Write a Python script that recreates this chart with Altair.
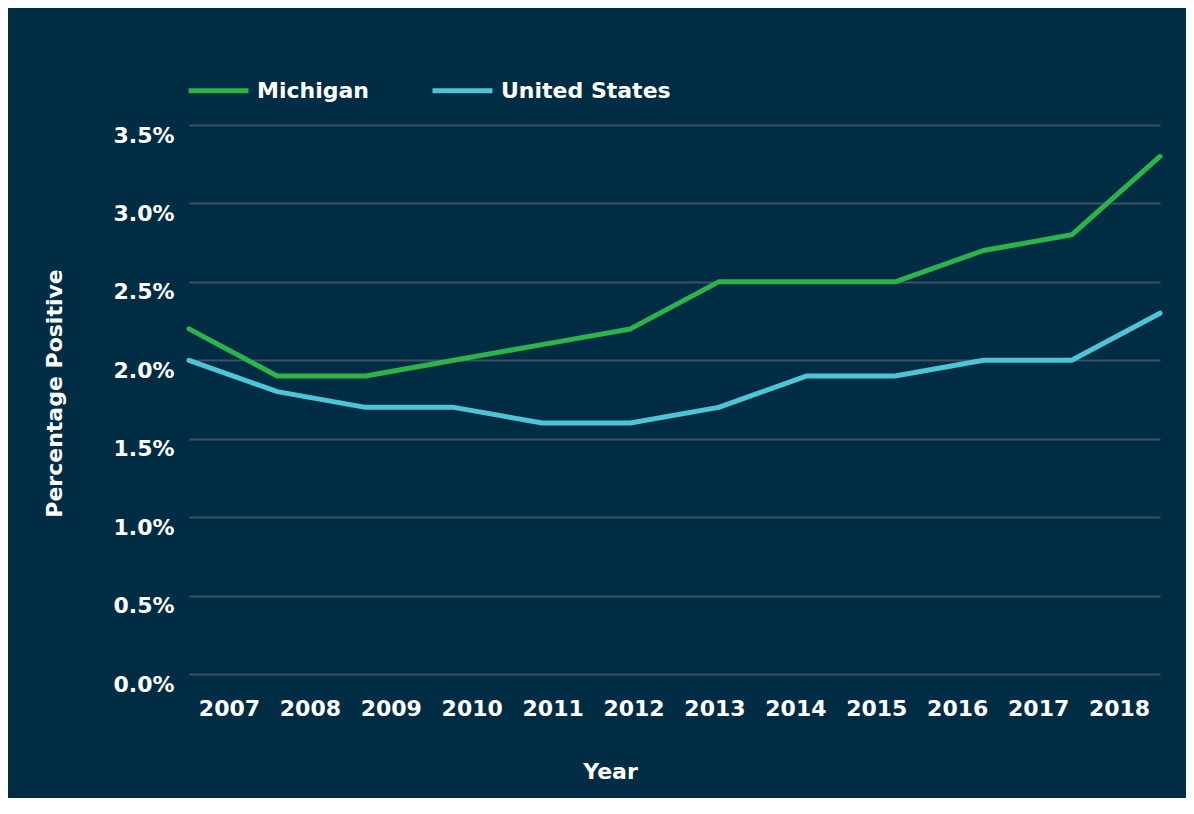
import altair as alt
import pandas as pd

years = [2007, 2008, 2009, 2010, 2011, 2012, 2013, 2014, 2015, 2016, 2017, 2018]
michigan = [2.2, 1.9, 1.9, 2.0, 2.1, 2.2, 2.5, 2.5, 2.5, 2.7, 2.8, 3.3]
united_states = [2.0, 1.8, 1.7, 1.7, 1.6, 1.6, 1.7, 1.9, 1.9, 2.0, 2.0, 2.3]
series_names = ["Michigan", "United States"]
series_colors = ["#2cb34a", "#4ec4d7"]
year_labels = [str(y) for y in years]
y_ticks = [0, 0.5, 1.0, 1.5, 2.0, 2.5, 3.0, 3.5]

rows = []
for name, vals in zip(series_names, [michigan, united_states]):
    for yr, v in zip(years, vals):
        rows.append({"year": yr, "value": v, "series": name})
df = pd.DataFrame(rows)
labels_df = pd.DataFrame({"label": year_labels})

FONT = "DejaVu Sans"
BG = "#012d44"

lines = alt.Chart(df).mark_line(strokeWidth=5, strokeCap="round", strokeJoin="round").encode(
    x=alt.X("year:Q", scale=alt.Scale(domain=[2007, 2018], nice=False, zero=False), axis=None),
    y=alt.Y(
        "value:Q",
        scale=alt.Scale(domain=[0, 3.5], nice=False),
        axis=alt.Axis(
            values=y_ticks,
            labelExpr="format(datum.value, '.1f') + '%'",
            title="Percentage Positive",
            titleX=-135,
            titleY=268,
            titleAngle=-90,
            titleAlign="center",
            titleBaseline="middle",
            labelPadding=15,
            labelOffset=10,
            grid=True,
        ),
    ),
    color=alt.Color(
        "series:N",
        scale=alt.Scale(domain=series_names, range=series_colors),
        legend=alt.Legend(
            orient="none",
            legendX=-3,
            legendY=-67,
            direction="horizontal",
            title=None,
            symbolType="stroke",
            symbolSize=3600,
            symbolStrokeWidth=5,
            labelFontSize=22,
            labelFont=FONT,
            labelFontWeight="bold",
            labelColor="white",
            labelOffset=6,
            labelLimit=400,
            columnPadding=53,
        ),
    ),
)

xlabels = alt.Chart(labels_df).mark_point(opacity=0).encode(
    x=alt.X(
        "label:O",
        sort=year_labels,
        scale=alt.Scale(type="band", paddingInner=0, paddingOuter=0),
        axis=alt.Axis(
            orient="bottom",
            title="Year",
            titleX=421,
            titleY=97,
            titleAlign="center",
            titleBaseline="middle",
            labelAngle=0,
            labelBaseline="top",
            labelPadding=24,
            grid=False,
        ),
    )
)

chart = (
    alt.layer(lines, xlabels)
    .resolve_scale(x="independent")
    .properties(
        width=971,
        height=549,
        background=BG,
        autosize=alt.AutoSizeParams(type="none"),
        padding={"left": 181, "top": 117, "right": 26, "bottom": 124},
    )
    .configure_view(stroke=None)
    .configure_axis(
        domain=False,
        ticks=False,
        gridColor="#3e5165",
        gridWidth=2,
        labelColor="white",
        labelFont=FONT,
        labelFontWeight="bold",
        labelFontSize=22,
        titleColor="white",
        titleFont=FONT,
        titleFontWeight="bold",
        titleFontSize=22,
    )
)

chart.save("out.html", embed_options={"renderer": "svg", "actions": False})
